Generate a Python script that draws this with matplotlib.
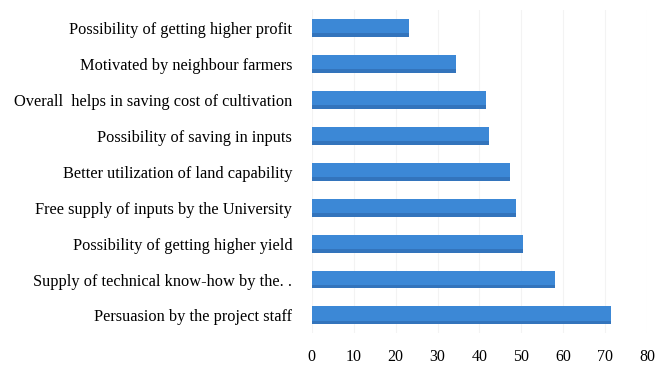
import matplotlib.pyplot as plt

# reasons for adoption, bottom to top
reasons = ['Persuasion by the project staff',
           'Supply of technical know-how by the. .',
           'Possibility of getting higher yield',
           'Free supply of inputs by the University',
           'Better utilization of land capability',
           'Possibility of saving in inputs',
           'Overall  helps in saving cost of cultivation',
           'Motivated by neighbour farmers',
           'Possibility of getting higher profit']
percent = [71.4, 58.1, 50.3, 48.8, 47.3, 42.3, 41.5, 34.4, 23.1]
xticks = [0, 10, 20, 30, 40, 50, 60, 70, 80]

plt.rcParams['font.family'] = ['Liberation Serif', 'DejaVu Serif']

fig = plt.figure(figsize=(6.55, 3.66), dpi=100)
ax = fig.add_axes([0.476, 0.089, 0.512, 0.884])

pos = range(len(reasons))
# main bar, then a darker strip along the lower edge to mimic the shading
ax.barh(pos, percent, height=0.5, color='#3C88D6', zorder=3)
ax.barh([p - 0.2 for p in pos], percent, height=0.1, color='#3374BC', zorder=3)

ax.set_xlim(0, 80)
ax.set_ylim(-0.5, len(reasons) - 0.5)
ax.set_xticks(xticks)
ax.set_yticks(list(pos))
ax.set_yticklabels(reasons, fontsize=11.8)
ax.tick_params(axis='x', length=0, pad=11, labelsize=11.5)
ax.tick_params(axis='y', length=0, pad=14)
ax.xaxis.grid(True, color='#f3f3f3', linewidth=0.8, zorder=0)
for s in ax.spines.values():
    s.set_visible(False)

fig.savefig('out.png', dpi=100)
